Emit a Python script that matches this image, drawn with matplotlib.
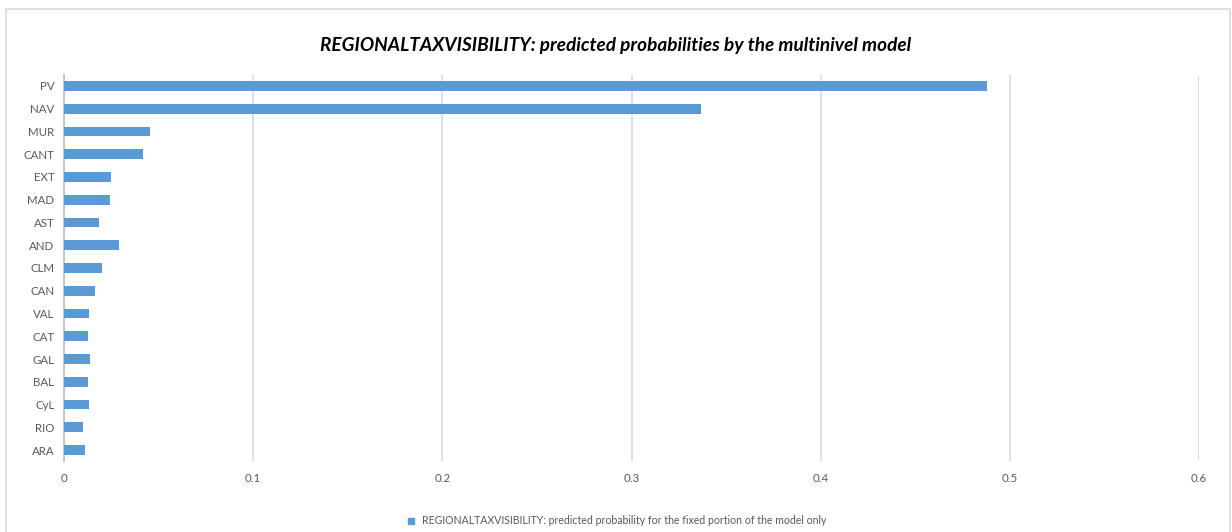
import matplotlib.pyplot as plt
from matplotlib.patches import Rectangle

# Predicted probabilities per region (fixed portion of the model)
regions = ["PV", "NAV", "MUR", "CANT", "EXT", "MAD", "AST", "AND", "CLM",
           "CAN", "VAL", "CAT", "GAL", "BAL", "CyL", "RIO", "ARA"]
probs = [0.488, 0.337, 0.0455, 0.0418, 0.0248, 0.0243, 0.0185, 0.0291, 0.0201,
         0.0164, 0.0132, 0.0127, 0.0137, 0.0127, 0.0132, 0.0100, 0.0111]
xticks = [0, 0.1, 0.2, 0.3, 0.4, 0.5, 0.6]

W, H = 1232, 532
fig = plt.figure(figsize=(W / 100, H / 100), dpi=100)
plt.rcParams["font.family"] = ["Lato", "DejaVu Sans"]

# chart area border
fig.patches.append(Rectangle((6 / W, -0.05), (1230 - 6) / W, 1.05 - 9 / H,
                             transform=fig.transFigure, fill=False,
                             edgecolor="#d9d9d9", linewidth=1.2))

left, right = 64 / W, 1199 / W
top, bottom = 1 - 74.6 / H, 1 - 461.4 / H
ax = fig.add_axes([left, bottom, right - left, top - bottom])

ypos = list(range(len(regions)))
ax.barh(ypos, probs, height=0.42, color="#5b9bd5", zorder=3)
ax.set_ylim(len(regions) - 0.5, -0.5)
ax.set_xlim(0, 0.6)
ax.set_yticks(ypos)
ax.set_yticklabels(regions)
ax.set_xticks(xticks)
ax.set_xticklabels([f"{t:g}" for t in xticks])

ax.grid(axis="x", color="#d9d9d9", linewidth=1.2, zorder=0)
for side in ["top", "right", "bottom"]:
    ax.spines[side].set_visible(False)
ax.spines["left"].set_color("#bfbfbf")
ax.spines["left"].set_linewidth(1.2)
ax.tick_params(axis="both", length=0, labelsize=8.3, colors="#595959", pad=8)
ax.tick_params(axis="y", pad=7)

fig.text(0.5, 1 - 45 / H,
         "REGIONALTAXVISIBILITY: predicted probabilities by the multinivel model",
         ha="center", va="center", fontsize=13.7, fontweight="bold",
         fontstyle="italic", color="#000000")

# legend
fig.patches.append(Rectangle((408 / W, 1 - 524 / H), 6 / W, 6 / H,
                             transform=fig.transFigure, color="#5b9bd5"))
fig.text(422 / W, 1 - 521 / H,
         "REGIONALTAXVISIBILITY: predicted probability for the fixed portion of the model only",
         ha="left", va="center", fontsize=7.6, color="#595959")

fig.savefig("out.png", dpi=100)
